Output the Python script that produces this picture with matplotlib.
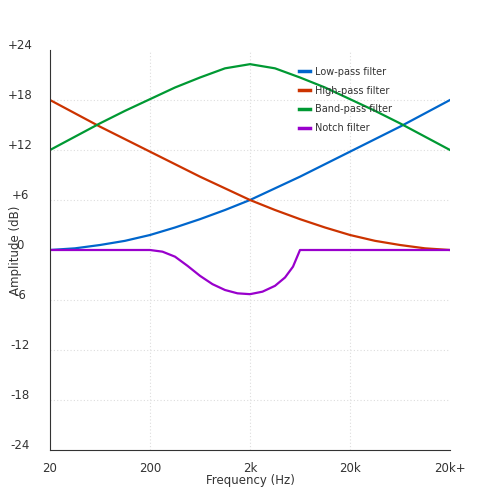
import matplotlib
matplotlib.use("Agg")
import matplotlib.pyplot as plt

x_labels = ["20", "200", "2k", "20k", "20k+"]
x_pos = [0, 0.25, 0.5, 0.75, 1, 1.25, 1.5, 1.75, 2, 2.25, 2.5, 2.75, 3, 3.25, 3.5, 3.75, 4]
low_pass = [0, 0.2, 0.6, 1.1, 1.8, 2.7, 3.7, 4.8, 6, 7.4, 8.8, 10.3, 11.8, 13.3, 14.8, 16.4, 18]
high_pass = low_pass[::-1]
band_pass = [12, 13.6, 15.2, 16.7, 18.1, 19.5, 20.7, 21.8, 22.3, 21.8, 20.7, 19.5, 18.1, 16.7, 15.2, 13.6, 12]
notch_x = [0, 1, 1.125, 1.25, 1.375, 1.5, 1.625, 1.75, 1.875, 2, 2.125, 2.25, 2.35, 2.43, 2.5, 4]
notch = [0, 0, -0.2, -0.8, -1.9, -3.1, -4.1, -4.8, -5.2, -5.3, -5.0, -4.3, -3.3, -2.0, 0, 0]
y_ticks = [-24, -18, -12, -6, 0, 6, 12, 18, 24]
y_labels = ["-24", "-18", "-12", "-6", "0", "+6", "+12", "+18", "+24"]

fig = plt.figure(figsize=(5, 5), dpi=100)
ax = fig.add_axes([0.1, 0.1, 0.8, 0.8])
ax.set_xlim(0, 4)
ax.set_ylim(-24, 24)

for v in [1, 2, 3]:
    ax.axvline(v, color="#dddddd", lw=0.8, ls=(0, (1, 2)), zorder=0)
for v in [-18, -12, -6, 6, 12, 18]:
    ax.axhline(v, color="#dddddd", lw=0.8, ls=(0, (1, 2)), zorder=0)

ax.plot(x_pos, low_pass, color="#0066cc", lw=1.6, label="Low-pass filter")
ax.plot(x_pos, high_pass, color="#cc3300", lw=1.6, label="High-pass filter")
ax.plot(x_pos, band_pass, color="#009933", lw=1.6, label="Band-pass filter")
ax.plot(notch_x, notch, color="#9900cc", lw=1.6, label="Notch filter")

ax.set_xticks(range(5))
ax.set_xticklabels(x_labels, fontsize=8.5, color="#333333")
ax.set_yticks([])
for t, l in zip(y_ticks, y_labels):
    ax.text(-0.075, t + 0.5, l, transform=ax.get_yaxis_transform(), ha="center",
            va="center", fontsize=8.5, color="#333333")
ax.tick_params(length=0, pad=9)
for s in ["top", "right"]:
    ax.spines[s].set_visible(False)
for s in ["left", "bottom"]:
    ax.spines[s].set_color("#333333")
ax.set_xlabel("Frequency (Hz)", fontsize=8.5, color="#333333", labelpad=-1)
ax.set_ylabel("Amplitude (dB)", fontsize=8.5, color="#333333", labelpad=20)

leg = ax.legend(loc="upper left", bbox_to_anchor=(0.6, 0.98), frameon=False,
                fontsize=7, handlelength=1.2, labelspacing=0.9, handletextpad=0.5)
for t in leg.get_texts():
    t.set_color("#333333")
for h in leg.get_lines():
    h.set_linewidth(2.5)

fig.savefig("out.png")
